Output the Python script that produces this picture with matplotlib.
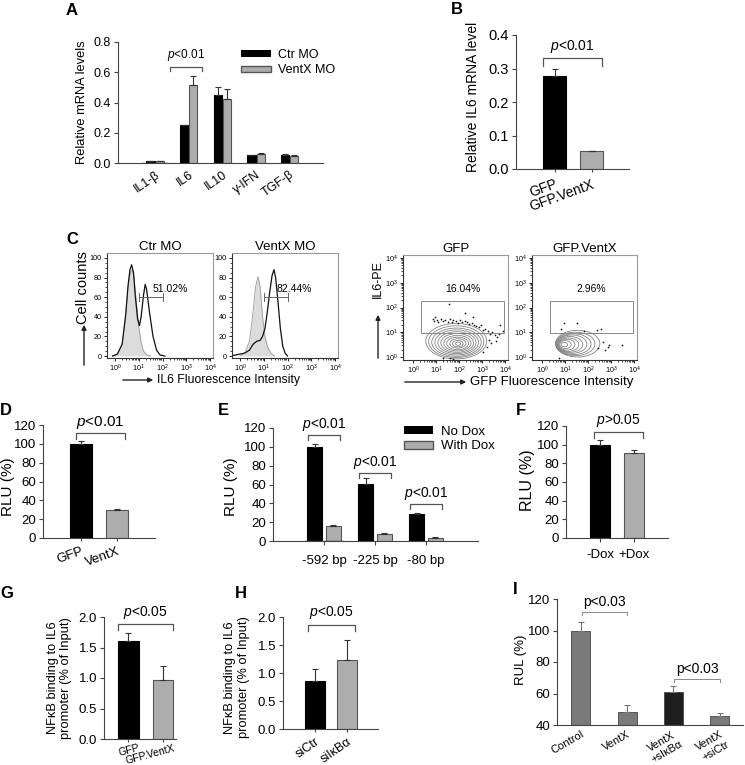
import numpy as np
import matplotlib
matplotlib.use('Agg')
import matplotlib.pyplot as plt
import matplotlib.patches as patches
import matplotlib.transforms as mtransforms

plt.rcParams['font.family'] = ['Liberation Sans', 'DejaVu Sans']
plt.rcParams['mathtext.fontset'] = 'custom'
plt.rcParams['mathtext.rm'] = 'Liberation Sans'
plt.rcParams['mathtext.it'] = 'Liberation Sans:italic'
plt.rcParams['axes.linewidth'] = 0.8

W, H = 745, 765

# ---------------- data ----------------
# A: cytokine mRNA
a_cats = ['IL1-β', 'IL6', 'IL10', 'γ-IFN', 'TGF-β']
a_ctr = [0.010, 0.252, 0.452, 0.052, 0.055]
a_ctr_err = [0.002, 0.0, 0.052, 0.004, 0.004]
a_ventx = [0.012, 0.515, 0.422, 0.062, 0.048]
a_ventx_err = [0.002, 0.062, 0.065, 0.005, 0.004]

# B: IL6 mRNA
b_cats = ['GFP', 'GFP.VentX']
b_vals = [0.277, 0.053]
b_err = [0.021, 0.002]

# C: histograms (log10 intensity, cell counts)
ctr_iso_x = [-0.1, 0.1, 0.3, 0.45, 0.55, 0.65, 0.72, 0.8, 0.9, 1.0, 1.1, 1.2, 1.35, 1.5]
ctr_iso_y = [0, 2, 12, 40, 70, 85, 88, 80, 55, 30, 14, 5, 1, 0]
ctr_il6_x = [-0.1, 0.1, 0.3, 0.45, 0.55, 0.63, 0.7, 0.78, 0.85, 0.95, 1.03, 1.1, 1.2,
             1.27, 1.33, 1.45, 1.6, 1.75, 1.9, 2.1]
ctr_il6_y = [0, 2, 12, 42, 72, 88, 93, 85, 62, 38, 31, 40, 62, 73, 68, 45, 20, 6, 1, 0]
vx_iso_x = [0.0, 0.2, 0.4, 0.55, 0.65, 0.76, 0.85, 0.95, 1.05, 1.15, 1.3, 1.45]
vx_iso_y = [0, 3, 15, 45, 70, 81, 70, 40, 20, 10, 3, 0]
vx_il6_x = [-0.4, -0.2, 0.0, 0.2, 0.4, 0.55, 0.7, 0.85, 0.95, 1.05, 1.15, 1.25, 1.35,
            1.43, 1.5, 1.6, 1.7, 1.8, 1.9, 2.0]
vx_il6_y = [0, 1, 2, 3, 6, 12, 15, 16, 20, 28, 45, 65, 82, 88, 80, 55, 28, 10, 3, 0]
hist_pct = ['51.02%', '82.44%']

# C: contour plots (log10 GFP, log10 IL6-PE), nested contour ellipses
gfp_cx = [1.88, 1.88, 1.89, 1.90, 1.91, 1.92, 1.93, 1.94, 1.95, 1.95, 1.96]
gfp_cy = [0.64, 0.62, 0.60, 0.59, 0.58, 0.57, 0.56, 0.55, 0.55, 0.54, 0.54]
gfp_w = [2.65, 2.40, 2.15, 1.90, 1.66, 1.42, 1.18, 0.95, 0.70, 0.46, 0.22]
gfp_h = [1.43, 1.28, 1.14, 1.01, 0.88, 0.76, 0.63, 0.51, 0.38, 0.26, 0.13]
vx_cx = [1.55, 1.45, 1.38, 1.30, 1.22, 1.15, 1.08, 1.02, 0.97]
vx_cy = [0.54, 0.53, 0.52, 0.52, 0.51, 0.50, 0.50, 0.50, 0.50]
vx_w = [1.93, 1.70, 1.50, 1.30, 1.10, 0.90, 0.70, 0.50, 0.28]
vx_h = [1.08, 0.95, 0.84, 0.74, 0.64, 0.54, 0.44, 0.32, 0.18]
gfp_dots_x = [0.85, 0.9, 0.95, 1.05, 1.1, 1.2, 1.3, 1.4, 1.5, 1.6, 1.7, 1.75, 1.85, 1.95,
              2.05, 2.15, 2.25, 2.35, 2.45, 2.55, 2.65, 2.75, 2.85, 2.95, 3.05, 3.15, 3.25,
              3.35, 3.45, 3.55, 3.65, 3.75, 3.3, 3.4, 3.6, 3.8, 3.9, 3.2, 1.57, 2.25, 2.6,
              1.3, 1.6, 1.75, 3.05]
gfp_dots_y = [1.55, 1.45, 1.6, 1.5, 1.4, 1.55, 1.45, 1.5, 1.42, 1.55, 1.4, 1.5, 1.45, 1.38,
              1.5, 1.42, 1.45, 1.4, 1.35, 1.38, 1.3, 1.25, 1.2, 1.3, 1.1, 1.15, 1.05,
              0.95, 1.0, 0.9, 0.8, 0.95, 0.7, 0.55, 0.65, 1.3, 1.05, 0.4, 2.14, 1.76, 1.6,
              -0.05, -0.05, -0.08, 0.2]
vx_dots_x = [0.95, 1.53, 2.37, 2.58, 2.64, 2.85, 2.9, 3.46, 0.84, 1.83, 0.75, 2.45, 2.75]
vx_dots_y = [1.36, 1.36, 1.08, 1.15, 0.61, 0.41, 0.5, 0.5, 1.15, 1.04, -0.04, 0.35, 0.3]
flow_pct = ['16.04%', '2.96%']

# D: luciferase
d_cats = ['GFP', 'VentX']
d_vals = [100, 30]
d_err = [3, 1.2]

# E: promoter deletions
e_cats = ['-592 bp', '-225 bp', '-80 bp']
e_nodox = [100, 60.5, 29]
e_nodox_err = [2.5, 6, 1.2]
e_dox = [15.5, 7.5, 3.5]
e_dox_err = [1.2, 1.3, 0.8]

# F
f_cats = ['-Dox', '+Dox']
f_vals = [100, 91.5]
f_err = [5, 3]

# G: ChIP
g_cats = ['GFP', 'GFP.VentX']
g_vals = [1.6, 0.97]
g_err = [0.14, 0.23]

# H
h_cats = ['siCtr', 'siIκBα']
h_vals = [0.855, 1.235]
h_err = [0.22, 0.35]

# I
i_cats = ['Control', 'VentX', 'VentX\n+sIκBα', 'VentX\n+siCtr']
i_vals = [100, 48, 61, 45.5]
i_err = [5.5, 5, 4, 2]

BLACK = '#000000'
GRAY = '#adadad'
EDGE = '#555555'

fig = plt.figure(figsize=(W / 100, H / 100), dpi=100)


def px_axes(l, t, r, b):
    return fig.add_axes([l / W, 1 - b / H, (r - l) / W, (b - t) / H])


def style_bar(ax, fs):
    for s in ['top', 'right']:
        ax.spines[s].set_visible(False)
    ax.spines['left'].set_color('#444444')
    ax.spines['bottom'].set_color('#444444')
    ax.tick_params(labelsize=fs, length=3, width=0.8, color='#444444', pad=2)


def bracket(ax, x1, x2, y, yend, text, fs, ty, color='#555555', lw=0.9):
    ax.plot([x1, x1, x2, x2], [yend, y, y, yend], color=color, lw=lw, clip_on=False)
    ax.text((x1 + x2) / 2, ty, text, ha='center', va='bottom', fontsize=fs, clip_on=False)


def bars(ax, x, vals, errs, color, width, ecolor='#333333'):
    ax.bar(x, vals, width, color=color, edgecolor=EDGE if color != BLACK else BLACK, lw=0.8)
    ax.errorbar(x, vals, yerr=[np.zeros(len(errs)), errs], fmt='none', ecolor=ecolor,
                elinewidth=0.8, capsize=2.5, capthick=0.8)


def letter(x, y, s):
    fig.text(x / W, 1 - y / H, s, fontsize=12, fontweight='bold', va='top', ha='left')


def arrow(x1, y1, x2, y2):
    fig.add_artist(patches.FancyArrowPatch((x1 / W, 1 - y1 / H), (x2 / W, 1 - y2 / H),
                                           transform=fig.transFigure, arrowstyle='-|>',
                                           mutation_scale=7, color='#222222', lw=1.0))


def shift_labels(ax, dx_px):
    off = mtransforms.ScaledTranslation(dx_px / 100, 0, fig.dpi_scale_trans)
    for lab in ax.get_xticklabels():
        lab.set_transform(lab.get_transform() + off)


# ---------------- A ----------------
ax = px_axes(118, 42, 323, 163)
xa = np.arange(len(a_cats))
bars(ax, xa - 0.135, a_ctr, a_ctr_err, BLACK, 0.24)
bars(ax, xa + 0.135, a_ventx, a_ventx_err, GRAY, 0.24)
ax.set_xlim(-1.1, 4.99)
ax.set_ylim(0, 0.8)
ax.set_yticks([0, 0.2, 0.4, 0.6, 0.8])
ax.set_yticklabels(['0.0', '0.2', '0.4', '0.6', '0.8'])
ax.set_xticks(xa)
ax.set_xticklabels(a_cats, rotation=35, ha='right', rotation_mode='anchor')
style_bar(ax, 9)
ax.tick_params(axis='x', length=0, pad=4)
ax.set_ylabel('Relative mRNA levels', fontsize=9.3)
ax.yaxis.set_label_coords(-0.146, 0.5)
bracket(ax, 0.45, 1.39, 0.635, 0.608, r'$p$<0.01', 8.5, 0.66)
ax.bar([0], [0], color=BLACK, label='Ctr MO')
ax.bar([0], [0], color=GRAY, edgecolor=EDGE, label='VentX MO')
ax.legend(loc='upper left', bbox_to_anchor=(0.6, 0.94), frameon=False, fontsize=9,
          handlelength=2.4, handleheight=0.45, labelspacing=0.25, handletextpad=0.6,
          borderaxespad=0, borderpad=0)
letter(66, 3, 'A')

# ---------------- B ----------------
ax = px_axes(516, 35, 629, 169)
bars(ax, [0], b_vals[:1], b_err[:1], BLACK, 0.62)
bars(ax, [1], b_vals[1:], b_err[1:], GRAY, 0.62)
ax.set_xlim(-1.04, 2.01)
ax.set_ylim(0, 0.4)
ax.set_yticks([0, 0.1, 0.2, 0.3, 0.4])
ax.set_yticklabels(['0.0', '0.1', '0.2', '0.3', '0.4'])
ax.set_xticks([0, 1])
ax.set_xticklabels(b_cats, rotation=20, ha='right', rotation_mode='anchor')
style_bar(ax, 10.5)
ax.tick_params(axis='x', length=2, pad=4, labelsize=10)
ax.set_ylabel('Relative IL6 mRNA level', fontsize=10)
ax.yaxis.set_label_coords(-0.32, 0.54)
bracket(ax, -0.31, 1.28, 0.331, 0.307, r'$p$<0.01', 10, 0.34)
letter(451, 2, 'B')


# ---------------- C histograms ----------------
def flow_frame(ax, ylog):
    for s in ['top', 'right']:
        ax.spines[s].set_color('#999999')
    for s in ['left', 'bottom']:
        ax.spines[s].set_color('#333333')
    ax.set_xticks(range(5))
    ax.set_xticklabels([r'$10^{%d}$' % k for k in range(5)])
    minor = [np.log10(m) + k for k in range(4) for m in range(2, 10)]
    ax.set_xticks(minor, minor=True)
    if ylog:
        ax.set_yticks(range(5))
        ax.set_yticklabels([r'$10^{%d}$' % k for k in range(5)])
        ax.set_yticks(minor, minor=True)
    ax.tick_params(labelsize=5.2, length=2.5, width=0.6, pad=1.2)
    ax.tick_params(which='minor', length=1.3, width=0.5)


hist_data = [(ctr_iso_x, ctr_iso_y, ctr_il6_x, ctr_il6_y),
             (vx_iso_x, vx_iso_y, vx_il6_x, vx_il6_y)]
hist_titles = ['Ctr MO', 'VentX MO']
for k, (l, r) in enumerate([(107, 213), (232, 338)]):
    ax = px_axes(l, 253, r, 358)
    ix, iy, lx, ly = hist_data[k]
    ax.fill_between(ix, iy, color='#dcdcdc', lw=0)
    ax.plot(ix, iy, color='#999999', lw=0.6)
    ax.plot(lx, ly, color='#111111', lw=0.9)
    ax.plot([1, 2], [60, 60], color='#666666', lw=0.7)
    ax.plot([1, 1], [56, 64], color='#666666', lw=0.7)
    ax.plot([2, 2], [56, 64], color='#666666', lw=0.7)
    ax.text(1.6 if k == 0 else 1.55, 63, hist_pct[k], fontsize=7.5, va='bottom', ha='left')
    ax.set_xlim(-0.337, 4.126)
    ax.set_ylim(-2, 105)
    ax.set_yticks([0, 20, 40, 60, 80, 100])
    ax.set_yticks(range(0, 101, 5), minor=True)
    flow_frame(ax, False)
    ax.set_title(hist_titles[k], fontsize=9.5, pad=1.5)

fig.text(83 / W, 1 - 288 / H, 'Cell counts', rotation=90, fontsize=10.5, ha='center', va='center')
arrow(84, 368, 84, 322)
arrow(120, 380, 156, 380)
fig.text(157 / W, 1 - 380 / H, 'IL6 Fluorescence Intensity', fontsize=8.8, va='center', ha='left')
letter(66, 232, 'C')

# ---------------- C contour plots ----------------
cont = [(gfp_cx, gfp_cy, gfp_w, gfp_h, gfp_dots_x, gfp_dots_y, 0.35, 3.96),
        (vx_cx, vx_cy, vx_w, vx_h, vx_dots_x, vx_dots_y, 0.35, 3.96)]
flow_titles = ['GFP', 'GFP.VentX']
for k, (l, r) in enumerate([(403, 508), (532, 637)]):
    ax = px_axes(l, 255, r, 360)
    cx, cy, cw, ch, dx, dy, g1, g2 = cont[k]
    for j in range(len(cx)):
        ax.add_patch(patches.Ellipse((cx[j], cy[j]), cw[j], ch[j], fill=False,
                                     ec='#7a7a7a', lw=0.55))
    ax.scatter(dx, dy, s=1.5, color='#111111', lw=0)
    ax.add_patch(patches.Rectangle((g1, 0.97), g2 - g1, 2.26 - 0.97, fill=False,
                                   ec='#888888', lw=0.7))
    ax.text((g1 + g2) / 2, 2.55, flow_pct[k], fontsize=7.5, ha='center', va='bottom')
    ax.set_xlim(-0.435, 4.13)
    ax.set_ylim(-0.12, 4.12)
    flow_frame(ax, True)
    ax.set_title(flow_titles[k], fontsize=9.5, pad=1.5)

fig.text(378 / W, 1 - 279 / H, 'IL6-PE', rotation=90, fontsize=9, ha='center', va='center')
arrow(378, 361, 378, 312)
arrow(402, 382, 469, 382)
fig.text(470 / W, 1 - 382 / H, 'GFP Fluorescence Intensity', fontsize=9.5, va='center', ha='left')

# ---------------- D ----------------
ax = px_axes(43, 425, 155, 538)
bars(ax, [0], d_vals[:1], d_err[:1], BLACK, 0.61)
bars(ax, [1], d_vals[1:], d_err[1:], GRAY, 0.61)
ax.set_xlim(-1.06, 2.06)
ax.set_ylim(0, 120)
ax.set_yticks(range(0, 121, 20))
ax.set_xticks([0, 1])
ax.set_xticklabels(d_cats, rotation=20, ha='right', rotation_mode='anchor')
style_bar(ax, 9.5)
ax.tick_params(axis='x', length=2, pad=3, labelsize=9.5)
ax.set_ylabel('RLU (%)', fontsize=11)
ax.yaxis.set_label_coords(-0.25, 0.45)
bracket(ax, -0.14, 1.22, 111.5, 105, r'$p$<0.01', 11, 114)
letter(0, 403, 'D')

# ---------------- E ----------------
ax = px_axes(273, 428, 478, 541)
xe = np.arange(len(e_cats))
bars(ax, xe - 0.18, e_nodox, e_nodox_err, BLACK, 0.29)
bars(ax, xe + 0.18, e_dox, e_dox_err, GRAY, 0.29)
ax.set_xlim(-1.0, 3.02)
ax.set_ylim(0, 120)
ax.set_yticks(range(0, 121, 20))
ax.set_xticks(xe)
ax.set_xticklabels(e_cats)
style_bar(ax, 9.5)
ax.tick_params(axis='x', length=3, pad=7, labelsize=9.5)
ax.set_ylabel('RLU (%)', fontsize=11)
ax.yaxis.set_label_coords(-0.17, 0.48)
bracket(ax, -0.31, 0.31, 112.6, 107, r'$p$<0.01', 10, 115)
bracket(ax, 0.69, 1.31, 72.2, 67, r'$p$<0.01', 10, 74.5)
bracket(ax, 1.69, 2.31, 39.3, 34, r'$p$<0.01', 10, 41.5)
ax.bar([0], [0], color=BLACK, label='No Dox')
ax.bar([0], [0], color=GRAY, edgecolor=EDGE, label='With Dox')
ax.legend(loc='upper left', bbox_to_anchor=(0.64, 1.02), frameon=False, fontsize=9.5,
          handlelength=2.2, handleheight=0.6, labelspacing=0.2, handletextpad=0.6,
          borderaxespad=0, borderpad=0)
letter(218, 403, 'E')

# ---------------- F ----------------
ax = px_axes(566, 426, 668, 538)
bars(ax, [0], f_vals[:1], f_err[:1], BLACK, 0.59)
bars(ax, [1], f_vals[1:], f_err[1:], GRAY, 0.59)
ax.set_xlim(-1.0, 2.0)
ax.set_ylim(0, 120)
ax.set_yticks(range(0, 121, 20))
ax.set_xticks([0, 1])
ax.set_xticklabels(f_cats)
style_bar(ax, 9.5)
ax.tick_params(axis='x', length=3, pad=5, labelsize=9.5)
ax.set_ylabel('RLU (%)', fontsize=11.5)
ax.yaxis.set_label_coords(-0.30, 0.52)
bracket(ax, -0.18, 1.26, 113.6, 107, r'$p$>0.05', 10, 117)
letter(516, 403, 'F')

# ---------------- G ----------------
ax = px_axes(104, 617, 176, 739)
bars(ax, [0], g_vals[:1], g_err[:1], BLACK, 0.6)
bars(ax, [1], g_vals[1:], g_err[1:], GRAY, 0.6)
ax.set_xlim(-0.71, 1.38)
ax.set_ylim(0, 2.0)
ax.set_yticks([0, 0.5, 1.0, 1.5, 2.0])
ax.set_yticklabels(['0.0', '0.5', '1.0', '1.5', '2.0'])
ax.set_xticks([0, 1])
ax.set_xticklabels(g_cats, rotation=15, ha='right', rotation_mode='anchor')
style_bar(ax, 9.5)
ax.tick_params(axis='x', length=2, pad=1, labelsize=7.5)
shift_labels(ax, 10)
ax.set_ylabel('NFκB binding to IL6\npromoter (% of Input)', fontsize=9.3)
ax.yaxis.set_label_coords(-0.44, 0.5)
bracket(ax, -0.3, 1.29, 1.885, 1.79, r'$p$<0.05', 10, 1.93)
letter(0, 586, 'G')

# ---------------- H ----------------
ax = px_axes(283, 617, 378, 729)
bars(ax, [0], h_vals[:1], h_err[:1], BLACK, 0.62)
bars(ax, [1], h_vals[1:], h_err[1:], GRAY, 0.62)
ax.set_xlim(-1.0, 1.97)
ax.set_ylim(0, 2.0)
ax.set_yticks([0, 0.5, 1.0, 1.5, 2.0])
ax.set_yticklabels(['0.0', '0.5', '1.0', '1.5', '2.0'])
ax.set_xticks([0, 1])
ax.set_xticklabels(h_cats, rotation=35, ha='right', rotation_mode='anchor')
style_bar(ax, 9.5)
ax.tick_params(axis='x', length=2, pad=3, labelsize=9)
ax.set_ylabel('NFκB binding to IL6\npromoter (% of Input)', fontsize=9.3)
ax.yaxis.set_label_coords(-0.35, 0.46)
bracket(ax, -0.22, 1.25, 1.857, 1.75, r'$p$<0.05', 10, 1.92)
letter(235, 586, 'H')

# ---------------- I ----------------
ax = px_axes(557, 599, 743, 725)
xi = np.arange(len(i_cats))
i_cols = ['#7a7a7a', '#7a7a7a', '#1e1e1e', '#7a7a7a']
ax.bar(xi, i_vals, 0.41, color=i_cols, edgecolor='#444444', lw=0.6)
ax.errorbar(xi, i_vals, yerr=[np.zeros(len(i_err)), i_err], fmt='none', ecolor='#777777',
            elinewidth=0.8, capsize=2.5, capthick=0.8)
ax.set_xlim(-0.51, 3.5)
ax.set_ylim(40, 120)
ax.set_yticks(range(40, 121, 20))
ax.set_xticks(xi)
ax.set_xticklabels(i_cats, rotation=30, ha='right', rotation_mode='anchor',
                   multialignment='center')
style_bar(ax, 9.5)
ax.tick_params(axis='x', length=0, pad=3, labelsize=8)
ax.set_ylabel('RUL (%)', fontsize=9.5)
ax.yaxis.set_label_coords(-0.16, 0.52)
bracket(ax, 0.03, 1.0, 111.7, 109.8, 'p<0.03', 10, 113.5, color='#888888', lw=0.7)
bracket(ax, 2.02, 3.01, 69.2, 67.3, 'p<0.03', 10, 71.0, color='#888888', lw=0.7)
letter(513, 582, 'I')

fig.savefig('out.png', dpi=100)
